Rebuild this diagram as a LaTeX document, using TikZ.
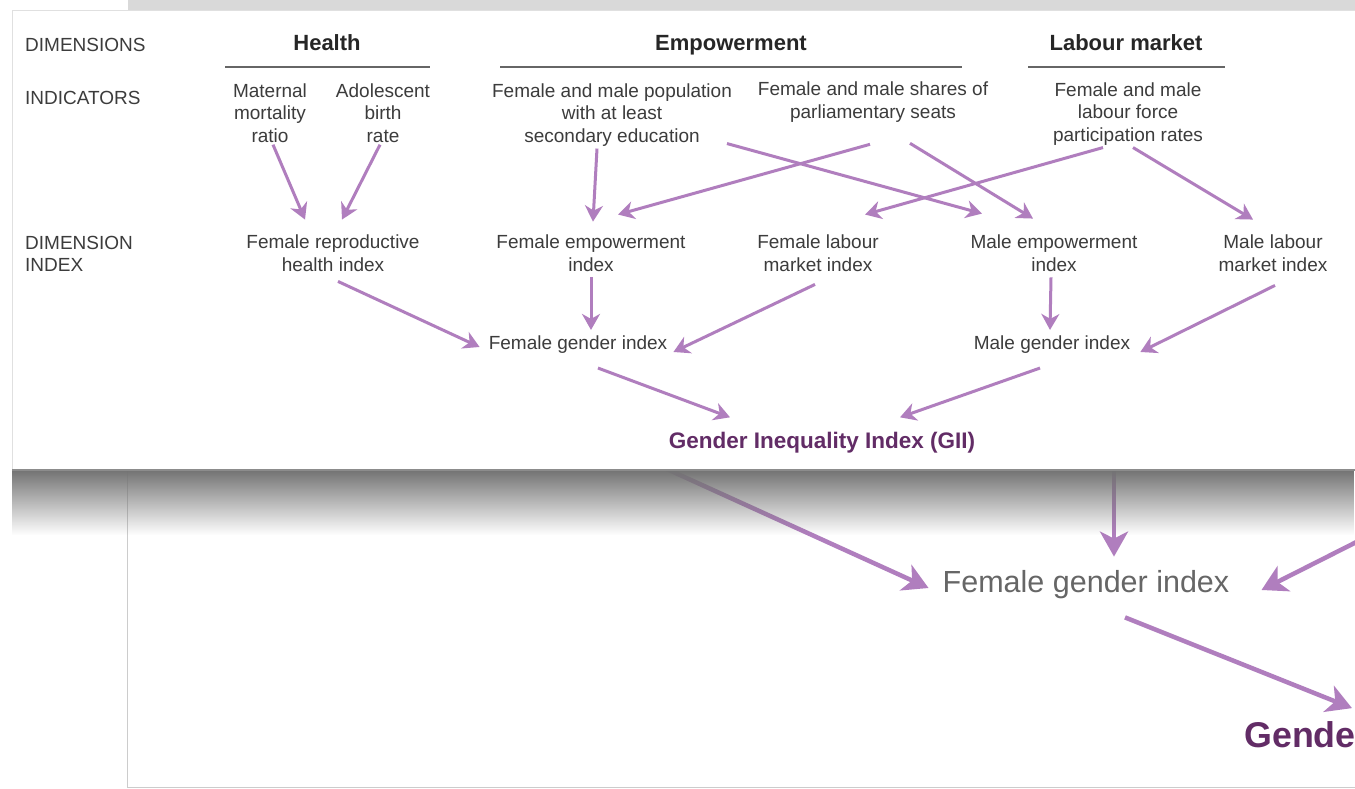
\documentclass[tikz,border=0pt]{standalone}
\usepackage{fontspec}
\setmainfont{Liberation Sans}
\usetikzlibrary{arrows.meta,fadings}
\definecolor{giiviolet}{RGB}{176,126,190}
\definecolor{giipurple}{RGB}{98,44,102}
\definecolor{giitext}{RGB}{60,60,60}

\begin{document}
\begin{tikzpicture}[x=1pt,y=-1pt,
  txt/.style={font=\fontsize{19}{22.5}\selectfont,text=giitext,align=center,inner sep=2pt},
  rowlabel/.style={txt,anchor=west,align=left},
  dimtitle/.style={font=\fontsize{22}{26}\selectfont\bfseries,text=black!85,inner sep=2pt,text height=16pt,text depth=5pt},
  titlerule/.style={draw=black!60,line width=1.2pt},
  link/.style={draw=giiviolet,line width=3pt,-{Stealth[length=16pt,width=18pt,inset=5pt]}},
  biglink/.style={draw=giiviolet,line width=4.5pt,-{Stealth[length=25pt,width=28pt,inset=7pt]}},
  bigtxt/.style={font=\fontsize{30.5}{36}\selectfont,text=black!60,inner sep=3pt}]
\useasboundingbox (0,0) rectangle (1355,789);
\clip (0,0) rectangle (1355,789);
\fill[white] (0,0) rectangle (1355,789);

% enlarged page behind the card
\begin{scope}
\clip (128,470) rectangle (1355,786);
\node[bigtxt] (fgibig) at (1086,585) {Female gender index};
\node[bigtxt,font=\fontsize{35.8}{40}\selectfont\bfseries,text=giipurple] (giibig) at (1488,738) {Gender Inequality Index (GII)};
\coordinate (bgrepro) at (647,460);
\coordinate (bgfemp) at (1114,460);
\coordinate (bgflab) at (1400,520);
\draw[biglink] (bgrepro) -- ([shift={(-11,3)}]fgibig.west);
\draw[biglink] (bgfemp) -- ([shift={(28,-11)}]fgibig.north);
\draw[biglink] (bgflab) -- ([shift={(29,5)}]fgibig.east);
\draw[biglink] ([shift={(39,15)}]fgibig.south) -- ([shift={(-136,-10)}]giibig.north);
\end{scope}
\draw[black!20] (127.5,470) -- (127.5,787) -- (1355,787);
\fill[black!15] (128,0) rectangle (1355,10);

% card and its shadow
\fill[black!55,path fading=south] (12,470) rectangle (1355,535);
\fill[white] (12,10) rectangle (1360,470);
\draw[black!12] (12,470) -- (12,10) -- (1360,10);
\draw[black!45,line width=1.5pt] (12,470) -- (1360,470);

% row labels
\node[rowlabel] (dimlabel) at (23,45) {DIMENSIONS};
\node[rowlabel] (indlabel) at (23,98) {INDICATORS};
\node[rowlabel] (idxlabel) at (23,254) {DIMENSION\\INDEX};

% dimensions
\node[dimtitle] (health) at (327,45) {Health};
\node[dimtitle] (empower) at (731,45) {Empowerment};
\node[dimtitle] (labour) at (1126,45) {Labour market};
\draw[titlerule] (225,67) -- (430,67);
\draw[titlerule] (500,67) -- (962,67);
\draw[titlerule] (1028,67) -- (1225,67);

% indicators
\node[txt] (mmr) at (270,113) {Maternal\\mortality\\ratio};
\node[txt] (abr) at (383,113) {Adolescent\\birth\\rate};
\node[txt] (edu) at (612,115) {Female and male population\\with at least\\secondary education};
\node[txt] (seats) at (873,102) {Female and male shares of\\parliamentary seats};
\node[txt] (lfpr) at (1128,114) {Female and male\\labour force\\participation rates};

% dimension indices
\node[txt] (repro) at (333,253) {Female reproductive\\health index};
\node[txt] (femp) at (591,253) {Female empowerment\\index};
\node[txt] (flab) at (818,253) {Female labour\\market index};
\node[txt] (memp) at (1054,253) {Male empowerment\\index};
\node[txt] (mlab) at (1273,253) {Male labour\\market index};

\node[txt] (fgi) at (578,345) {Female gender index};
\node[txt] (mgi) at (1052,345) {Male gender index};
\node[txt,font=\fontsize{22.5}{26}\selectfont\bfseries,text=giipurple] (gii) at (822,443) {Gender Inequality Index (GII)};

% indicators to indices
\draw[link] ([xshift=3pt]mmr.south) -- ([shift={(-28,-13)}]repro.north);
\draw[link] ([xshift=-3pt]abr.south) -- ([shift={(9,-13)}]repro.north);
\draw[link] ([xshift=-15pt]edu.south) -- ([shift={(2,-11)}]femp.north);
\draw[link] ([shift={(-3,20)}]seats.south) -- ([shift={(27,-18)}]femp.north);
\draw[link] ([shift={(115,-5)}]edu.south) -- ([shift={(-72,-19)}]memp.north);
\draw[link] ([shift={(37,19)}]seats.south) -- ([shift={(-21,-14)}]memp.north);
\draw[link] ([xshift=-25pt]lfpr.south) -- ([shift={(47,-18)}]flab.north);
\draw[link] ([xshift=5pt]lfpr.south) -- ([shift={(-20,-13)}]mlab.north);

% indices to gender indices
\draw[link] ([shift={(5,8)}]repro.south) -- ([shift={(-7,2)}]fgi.west);
\draw[link] ([shift={(0,4)}]femp.south) -- ([shift={(13,-4)}]fgi.north);
\draw[link] ([shift={(-3,11)}]flab.south) -- ([shift={(4,7)}]fgi.east);
\draw[link] ([shift={(-3,4)}]memp.south) -- ([shift={(-2,-4)}]mgi.north);
\draw[link] ([shift={(2,12)}]mlab.south) -- ([shift={(8,7)}]mgi.east);
\draw[link] ([shift={(20,12)}]fgi.south) -- ([shift={(-92,-13)}]gii.north);
\draw[link] ([shift={(-12,12)}]mgi.south) -- ([shift={(78,-13)}]gii.north);
\end{tikzpicture}
\end{document}
